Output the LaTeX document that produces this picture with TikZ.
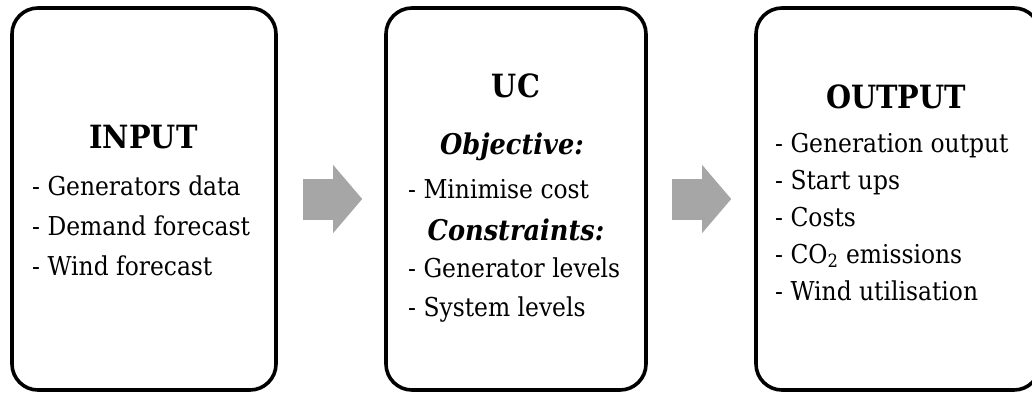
\documentclass[tikz,border=0pt]{standalone}
\usepackage{fontspec}
\setmainfont[FakeStretch=0.9]{DejaVu Serif}
\usetikzlibrary{arrows.meta, positioning, calc}

\begin{document}
\begin{tikzpicture}[
    x=1pt, y=-1pt,
    stagebox/.style={rectangle, draw, line width=3.6pt, rounded corners=26pt, inner sep=0pt},
    headtext/.style={anchor=base, inner sep=0pt, font=\fontsize{32}{38}\selectfont\bfseries},
    subtext/.style={anchor=base, inner sep=0pt, font=\fontsize{28.5}{34}\selectfont\bfseries\itshape},
    itemtext/.style={anchor=base west, inner sep=0pt, font=\fontsize{26}{32}\selectfont},
    flow/.style={line width=41pt, draw=gray!70, -{Triangle[length=29pt, width=68pt, line width=0pt]}}
]
\useasboundingbox (0,0) rectangle (1032,394);

% ============ STAGES ============
\node[stagebox, minimum width=264, minimum height=382] (inbox) at (144,199) {};
\node[stagebox, minimum width=260, minimum height=382] (ucbox) at (516,199) {};
\node[stagebox, minimum width=284, minimum height=382] (outbox) at (898,199) {};

% INPUT
\node[headtext] (inhead) at (143.5,148) {INPUT};
\node[itemtext] (gendata) at (32,195) {- Generators data};
\node[itemtext] (demand) at (32,235) {- Demand forecast};
\node[itemtext] (windfc) at (32,275) {- Wind forecast};

% UC
\node[headtext] (uchead) at (516,97) {UC};
\node[subtext] (objective) at (512,154) {Objective:};
\node[itemtext] (mincost) at (408,198) {- Minimise cost};
\node[subtext] (constraints) at (516,240) {Constraints:};
\node[itemtext] (genlevels) at (408,277) {- Generator levels};
\node[itemtext] (syslevels) at (408,316) {- System levels};

% OUTPUT
\node[headtext] (outhead) at (896,108) {OUTPUT};
\node[itemtext] (genout) at (775,152) {- Generation output};
\node[itemtext] (startups) at (775,189) {- Start ups};
\node[itemtext] (costs) at (775,226) {- Costs};
\node[itemtext] (emissions) at (775,263) {- CO\textsubscript{2} emissions};
\node[itemtext] (windutil) at (775,300) {- Wind utilisation};

% ============ FLOW ARROWS ============
\draw[flow] ([xshift=25pt]inbox.east) -- ([xshift=-22pt]ucbox.west);
\draw[flow] ([xshift=24pt]ucbox.east) -- ([xshift=-23pt]outbox.west);

\end{tikzpicture}
\end{document}
